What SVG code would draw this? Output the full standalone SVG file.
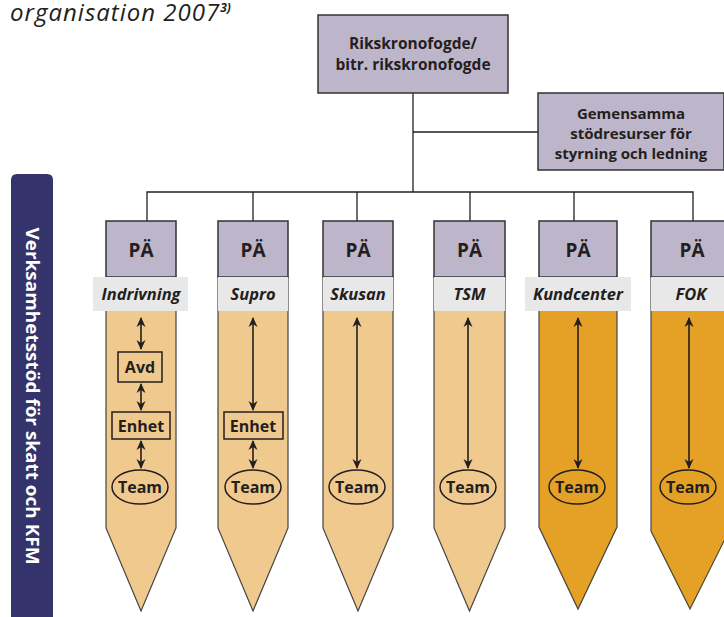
<svg xmlns="http://www.w3.org/2000/svg" width="724" height="617" viewBox="0 0 724 617">
<defs>
<style>
.t{font-family:"Open Sans","Liberation Sans",sans-serif;fill:#231f20}
.b{font-weight:bold}
.box{fill:#bdb5c9;stroke:#333;stroke-width:1.5}
.band{fill:#e8e8e8}
.lt{fill:#f0c98e;stroke:#444;stroke-width:1.2}
.dk{fill:#e5a125;stroke:#444;stroke-width:1.2}
.ln{stroke:#231f20;stroke-width:1.3;fill:none}
.ar{stroke:#231f20;stroke-width:1.6;fill:none;marker-start:url(#ah);marker-end:url(#ah)}
.sm{fill:none;stroke:#231f20;stroke-width:1.5}
.pa{font-size:19px}
.lb{font-size:16.5px;font-style:italic}
.it{font-size:16px}
</style>
<marker id="ah" viewBox="0 0 10 10" refX="9" refY="5" markerWidth="10" markerHeight="10" markerUnits="userSpaceOnUse" orient="auto-start-reverse">
<path d="M0,0.5 L10,5 L0,9.5 L3,5 z" fill="#231f20"/>
</marker>
</defs>
<rect width="724" height="617" fill="#fff"/>
<text class="t" x="10" y="21" font-size="24" font-style="italic" letter-spacing="1">organisation 2007<tspan font-size="12" dy="-9" font-weight="bold" letter-spacing="0">3)</tspan></text>

<g id="side-banner">
<path d="M11,617 V180 Q11,174 17,174 H47 Q53,174 53,180 V617 Z" fill="#35336b"/>
<text class="t b" x="0" y="0" font-size="18" style="fill:#fff" text-anchor="middle" transform="translate(25.5,396) rotate(90)" textLength="337" lengthAdjust="spacingAndGlyphs">Verksamhetsstöd för skatt och KFM</text>
</g>

<g id="connectors">
<line class="ln" x1="413" y1="93" x2="413" y2="192"/>
<line class="ln" x1="413" y1="132" x2="538" y2="132"/>
<polyline class="ln" points="147,221 147,192 693,192 693,221"/>
<line class="ln" x1="253" y1="192" x2="253" y2="221"/>
<line class="ln" x1="357" y1="192" x2="357" y2="221"/>
<line class="ln" x1="470" y1="192" x2="470" y2="221"/>
<line class="ln" x1="574" y1="192" x2="574" y2="221"/>
</g>

<g id="rikskronofogde">
<rect class="box" x="318" y="15" width="190" height="78"/>
<text class="t b" x="413" y="49" font-size="15.5" text-anchor="middle">Rikskronofogde/</text>
<text class="t b" x="413" y="70" font-size="15.5" text-anchor="middle">bitr. rikskronofogde</text>
</g>
<g id="gemensamma">
<rect class="box" x="538" y="93" width="186" height="77"/>
<text class="t b" x="631" y="119" font-size="15" text-anchor="middle">Gemensamma</text>
<text class="t b" x="631" y="139" font-size="15" text-anchor="middle">stödresurser för</text>
<text class="t b" x="631" y="159" font-size="15" text-anchor="middle">styrning och ledning</text>
</g>

<g id="col-indrivning">
<path class="lt" d="M106,277 H176 V528 L141,611 L106,528 Z"/>
<rect class="box" x="106" y="221" width="70" height="56"/>
<rect class="band" x="93" y="277" width="95" height="34"/>
<text class="t b pa" x="141" y="257" text-anchor="middle">PÄ</text>
<text class="t b lb" x="141" y="300" text-anchor="middle">Indrivning</text>
<line class="ar" x1="141" y1="318" x2="141" y2="349"/>
<rect class="sm" x="118" y="352" width="44" height="30"/>
<text class="t b it" x="140" y="373" text-anchor="middle">Avd</text>
<line class="ar" x1="141" y1="384" x2="141" y2="410"/>
<rect class="sm" x="112" y="412" width="58" height="27"/>
<text class="t b it" x="141" y="432" text-anchor="middle">Enhet</text>
<line class="ar" x1="141" y1="441" x2="141" y2="468"/>
<ellipse class="sm" cx="140" cy="487" rx="28" ry="17"/>
<text class="t b it" x="140" y="493" text-anchor="middle">Team</text>
</g>

<g id="col-supro">
<path class="lt" d="M218,277 H288 V528 L253,611 L218,528 Z"/>
<rect class="box" x="218" y="221" width="70" height="56"/>
<rect class="band" x="218" y="277" width="70" height="34"/>
<text class="t b pa" x="253" y="257" text-anchor="middle">PÄ</text>
<text class="t b lb" x="253" y="300" text-anchor="middle">Supro</text>
<line class="ar" x1="253" y1="318" x2="253" y2="410"/>
<rect class="sm" x="224" y="412" width="59" height="27"/>
<text class="t b it" x="253" y="432" text-anchor="middle">Enhet</text>
<line class="ar" x1="253" y1="441" x2="253" y2="468"/>
<ellipse class="sm" cx="253" cy="487" rx="28" ry="17"/>
<text class="t b it" x="253" y="493" text-anchor="middle">Team</text>
</g>

<g id="col-skusan">
<path class="lt" d="M323,277 H393 V528 L358,611 L323,528 Z"/>
<rect class="box" x="323" y="221" width="70" height="56"/>
<rect class="band" x="323" y="277" width="70" height="34"/>
<text class="t b pa" x="358" y="257" text-anchor="middle">PÄ</text>
<text class="t b lb" x="358" y="300" text-anchor="middle">Skusan</text>
<line class="ar" x1="357" y1="318" x2="357" y2="468"/>
<ellipse class="sm" cx="357" cy="487" rx="28" ry="17"/>
<text class="t b it" x="357" y="493" text-anchor="middle">Team</text>
</g>

<g id="col-tsm">
<path class="lt" d="M434,277 H505 V528 L469.5,611 L434,528 Z"/>
<rect class="box" x="434" y="221" width="71" height="56"/>
<rect class="band" x="434" y="277" width="71" height="34"/>
<text class="t b pa" x="469.5" y="257" text-anchor="middle">PÄ</text>
<text class="t b lb" x="469.5" y="300" text-anchor="middle">TSM</text>
<line class="ar" x1="468" y1="318" x2="468" y2="468"/>
<ellipse class="sm" cx="468" cy="487" rx="28" ry="17"/>
<text class="t b it" x="468" y="493" text-anchor="middle">Team</text>
</g>

<g id="col-kundcenter">
<path class="dk" d="M539,277 H617 V527 L578,609 L539,527 Z"/>
<rect class="box" x="539" y="221" width="78" height="56"/>
<rect class="band" x="525" y="277" width="106" height="34"/>
<text class="t b pa" x="578" y="257" text-anchor="middle">PÄ</text>
<text class="t b lb" x="578" y="300" text-anchor="middle">Kundcenter</text>
<line class="ar" x1="578" y1="318" x2="578" y2="468"/>
<ellipse class="sm" cx="577" cy="487" rx="28" ry="17"/>
<text class="t b it" x="577" y="493" text-anchor="middle">Team</text>
</g>

<g id="col-fok">
<path class="dk" d="M651,277 H729 V531 L690,609 L651,531 Z"/>
<rect class="box" x="651" y="221" width="78" height="56"/>
<rect class="band" x="651" y="277" width="78" height="34"/>
<text class="t b pa" x="692" y="257" text-anchor="middle">PÄ</text>
<text class="t b lb" x="691" y="300" text-anchor="middle">FOK</text>
<line class="ar" x1="689" y1="318" x2="689" y2="468"/>
<ellipse class="sm" cx="688" cy="487" rx="28" ry="17"/>
<text class="t b it" x="688" y="493" text-anchor="middle">Team</text>
</g>
</svg>
